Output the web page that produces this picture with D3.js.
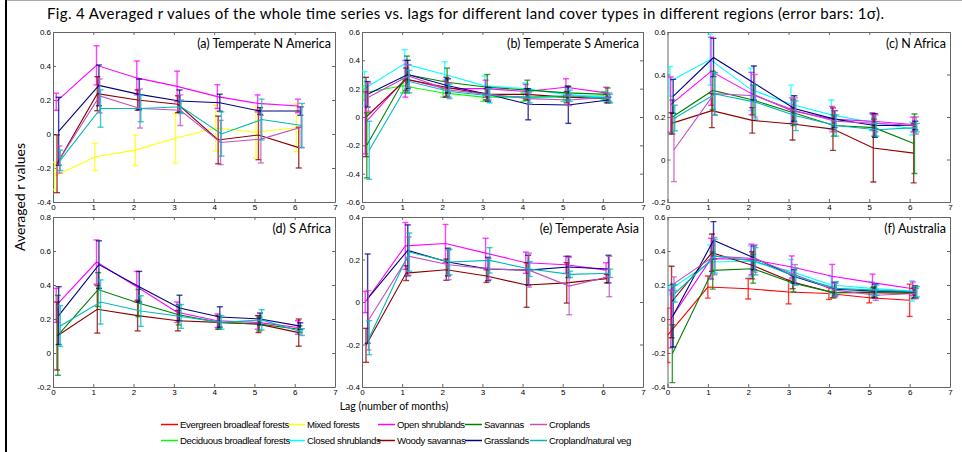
<!DOCTYPE html>
<html>
<head>
<meta charset="utf-8">
<title>Averaged r values vs lags</title>
<script src="https://cdn.jsdelivr.net/npm/d3@7"></script>
<style>
body { margin: 0; background: #fff; }
svg { display: block; }
text { font-family: Lato, "Open Sans", sans-serif; fill: #000; }
.tick text { font-family: "Liberation Sans", Arial, sans-serif; font-size: 8px; }
.tick line, .domain { stroke: #666; }
.legend text { font-family: "Liberation Sans Narrow", "Liberation Sans", sans-serif; font-size: 9.6px; letter-spacing: -0.35px; }
</style>
</head>
<body>
<svg id="fig" width="962" height="452"></svg>
<script>
// lags (x values) and land cover types
var lags = [0, 1, 2, 3, 4, 5, 6];
var typeNames = ["Evergreen broadleaf forests", "Deciduous broadleaf forests", "Mixed forests",
    "Closed shrublands", "Open shrublands", "Woody savannas", "Savannas", "Grasslands",
    "Croplands", "Cropland/natural veg"];
var typeColors = ["#ff0000", "#00ff00", "#ffff00", "#00ffff", "#ff00ff", "#8b0000",
    "#008000", "#000080", "#c050c0", "#00b8b8"];

var panelTitles = ["(a) Temperate N America", "(b) Temperate S America", "(c) N Africa",
    "(d) S Africa", "(e) Temperate Asia", "(f) Australia"];
var panelYDomains = [[-0.4, 0.6], [-0.6, 0.6], [-0.2, 0.6], [-0.2, 0.8], [-0.4, 0.4], [-0.4, 0.6]];

// each row: [type index, mean r at lags 0..6, 1 sigma at lags 0..6]
var tempNAmerica = [
    [2, [-0.247, -0.135, -0.095, -0.025, 0.035, 0.01, 0.037], [0.08, 0.08, 0.09, 0.145, 0.135, 0.15, 0.14]],
    [4, [0.19, 0.404, 0.33, 0.28, 0.22, 0.18, 0.165], [0.05, 0.115, 0.1, 0.09, 0.07, 0.05, 0.04]],
    [5, [-0.175, 0.237, 0.2, 0.175, -0.035, -0.006, -0.08], [0.17, 0.1, 0.06, 0.05, 0.14, 0.145, 0.12]],
    [7, [0.016, 0.286, 0.233, 0.194, 0.184, 0.135, 0.135], [0.2, 0.12, 0.09, 0.065, 0.05, 0.02, 0.025]],
    [8, [-0.15, 0.224, 0.15, 0.14, -0.05, -0.03, 0.04], [0.08, 0.1, 0.115, 0.09, 0.13, 0.14, 0.12]],
    [9, [-0.155, 0.15, 0.15, 0.16, 0.0, 0.085, 0.05], [0.06, 0.11, 0.078, 0.04, 0.13, 0.12, 0.13]]
];
var tempSAmerica = [
    [1, [0.17, 0.22, 0.17, 0.14, 0.14, 0.14, 0.15], [0.05, 0.05, 0.03, 0.03, 0.03, 0.03, 0.03]],
    [3, [0.2, 0.375, 0.3, 0.22, 0.2, 0.16, 0.14], [0.12, 0.1, 0.09, 0.07, 0.04, 0.05, 0.03]],
    [4, [-0.04, 0.27, 0.2, 0.2, 0.18, 0.21, 0.17], [0.22, 0.13, 0.06, 0.06, 0.05, 0.06, 0.04]],
    [5, [0.0, 0.265, 0.21, 0.16, 0.16, 0.14, 0.13], [0.28, 0.08, 0.07, 0.04, 0.04, 0.04, 0.03]],
    [6, [-0.2, 0.3, 0.245, 0.21, 0.19, 0.17, 0.16], [0.23, 0.13, 0.1, 0.09, 0.07, 0.05, 0.045]],
    [7, [0.16, 0.3, 0.22, 0.16, 0.09, 0.085, 0.12], [0.09, 0.1, 0.05, 0.05, 0.11, 0.13, 0.02]],
    [8, [0.14, 0.29, 0.19, 0.16, 0.13, 0.12, 0.14], [0.1, 0.08, 0.05, 0.04, 0.04, 0.04, 0.03]],
    [9, [-0.235, 0.25, 0.18, 0.15, 0.14, 0.15, 0.13], [0.205, 0.08, 0.05, 0.05, 0.04, 0.04, 0.03]]
];
var nAfrica = [
    [3, [0.368, 0.47, 0.33, 0.26, 0.21, 0.175, 0.145], [0.07, 0.12, 0.1, 0.09, 0.07, 0.04, 0.03]],
    [4, [0.258, 0.415, 0.31, 0.23, 0.19, 0.18, 0.165], [0.13, 0.16, 0.1, 0.06, 0.06, 0.04, 0.035]],
    [5, [0.17, 0.23, 0.184, 0.167, 0.143, 0.054, 0.03], [0.05, 0.08, 0.06, 0.075, 0.1, 0.16, 0.14]],
    [6, [0.2, 0.325, 0.28, 0.22, 0.16, 0.15, 0.074], [0.08, 0.09, 0.07, 0.06, 0.05, 0.04, 0.14]],
    [7, [0.297, 0.48, 0.36, 0.24, 0.19, 0.16, 0.16], [0.08, 0.09, 0.08, 0.06, 0.04, 0.055, 0.02]],
    [8, [0.046, 0.31, 0.3, 0.23, 0.18, 0.17, 0.16], [0.15, 0.1, 0.1, 0.06, 0.05, 0.04, 0.04]],
    [9, [0.195, 0.308, 0.27, 0.206, 0.16, 0.14, 0.15], [0.06, 0.1, 0.08, 0.07, 0.05, 0.03, 0.02]]
];
var sAfrica = [
    [4, [0.28, 0.535, 0.39, 0.24, 0.19, 0.18, 0.15], [0.1, 0.13, 0.09, 0.06, 0.04, 0.04, 0.04]],
    [5, [0.1, 0.257, 0.22, 0.19, 0.18, 0.17, 0.12], [0.2, 0.14, 0.09, 0.06, 0.04, 0.05, 0.08]],
    [6, [0.104, 0.373, 0.294, 0.225, 0.18, 0.17, 0.14], [0.235, 0.1, 0.08, 0.06, 0.04, 0.04, 0.02]],
    [7, [0.22, 0.52, 0.39, 0.265, 0.212, 0.2, 0.158], [0.17, 0.14, 0.09, 0.075, 0.06, 0.035, 0.02]],
    [9, [0.159, 0.3, 0.247, 0.215, 0.18, 0.195, 0.123], [0.12, 0.13, 0.09, 0.07, 0.04, 0.06, 0.02]]
];
var tempAsia = [
    [4, [0.0, 0.264, 0.275, 0.23, 0.185, 0.175, 0.15], [0.05, 0.11, 0.09, 0.07, 0.05, 0.04, 0.035]],
    [5, [-0.204, 0.136, 0.152, 0.122, 0.08, 0.09, 0.11], [0.08, 0.035, 0.05, 0.03, 0.105, 0.095, 0.02]],
    [7, [0.016, 0.243, 0.188, 0.155, 0.15, 0.165, 0.155], [0.21, 0.12, 0.065, 0.055, 0.07, 0.05, 0.065]],
    [8, [-0.086, 0.216, 0.175, 0.155, 0.15, 0.075, 0.12], [0.14, 0.09, 0.07, 0.05, 0.08, 0.135, 0.095]],
    [9, [-0.168, 0.235, 0.188, 0.196, 0.155, 0.13, 0.135], [0.08, 0.09, 0.06, 0.06, 0.035, 0.015, 0.02]]
];
var australia = [
    [0, [-0.096, 0.188, 0.178, 0.159, 0.15, 0.125, 0.11], [0.16, 0.065, 0.06, 0.07, 0.035, 0.03, 0.095]],
    [3, [0.172, 0.335, 0.34, 0.28, 0.2, 0.18, 0.165], [0.03, 0.1, 0.09, 0.07, 0.05, 0.04, 0.06]],
    [4, [0.0, 0.355, 0.35, 0.306, 0.251, 0.214, 0.178], [0.17, 0.12, 0.09, 0.065, 0.07, 0.05, 0.04]],
    [5, [0.1, 0.39, 0.316, 0.218, 0.155, 0.155, 0.15], [0.21, 0.11, 0.08, 0.04, 0.03, 0.03, 0.03]],
    [6, [-0.204, 0.286, 0.296, 0.21, 0.155, 0.16, 0.155], [0.17, 0.11, 0.085, 0.05, 0.03, 0.03, 0.03]],
    [7, [0.02, 0.463, 0.36, 0.25, 0.175, 0.165, 0.16], [0.185, 0.11, 0.07, 0.04, 0.04, 0.04, 0.035]],
    [8, [0.208, 0.37, 0.355, 0.26, 0.17, 0.14, 0.15], [0.04, 0.11, 0.08, 0.06, 0.04, 0.03, 0.03]],
    [9, [0.15, 0.37, 0.34, 0.25, 0.18, 0.17, 0.16], [0.05, 0.1, 0.08, 0.05, 0.04, 0.03, 0.03]]
];
var panelData = [tempNAmerica, tempSAmerica, nAfrica, sAfrica, tempAsia, australia];

var svg = d3.select("#fig");

// screenshot frame
svg.append("line").attr("x1", 6).attr("x2", 6).attr("y1", 0).attr("y2", 452)
    .attr("stroke", "#000").attr("stroke-width", 2);
svg.append("line").attr("x1", 7).attr("x2", 962).attr("y1", 0.5).attr("y2", 0.5)
    .attr("stroke", "#aaa");

svg.append("text")
    .attr("x", 47).attr("y", 19)
    .attr("textLength", 837).attr("lengthAdjust", "spacing")
    .style("font-size", "15px")
    .text("Fig. 4 Averaged r values of the whole time series vs. lags for different land cover types in different regions (error bars: 1\u03c3).");

var colX = [[53, 335], [362, 643], [667.5, 950]];
var rowY = [[32, 202], [217, 387]];
var fmt = function (d) { return d === 0 ? "0" : String(+d.toFixed(1)); };

panelData.forEach(function (rows, p) {
    var cx = colX[p % 3], cy = rowY[Math.floor(p / 3)];
    var dom = panelYDomains[p];
    var x = d3.scaleLinear().domain([0, 7]).range(cx);
    var y = d3.scaleLinear().domain(dom).range([cy[1], cy[0]]);
    var yTicks = d3.range(Math.round((dom[1] - dom[0]) / 0.2) + 1).map(function (i) { return +(dom[0] + i * 0.2).toFixed(1); });

    var g = svg.append("g");
    g.append("clipPath").attr("id", "clip" + p)
        .append("rect").attr("x", cx[0]).attr("y", cy[0])
        .attr("width", cx[1] - cx[0]).attr("height", cy[1] - cy[0]);

    g.append("g").attr("transform", "translate(0," + cy[1] + ")")
        .call(d3.axisBottom(x).ticks(7).tickSize(-3).tickSizeOuter(0).tickPadding(2).tickFormat(d3.format("d")));
    g.append("g").attr("transform", "translate(0," + cy[0] + ")")
        .call(d3.axisTop(x).ticks(7).tickSize(-3).tickSizeOuter(0).tickFormat(""));
    g.append("g").attr("transform", "translate(" + cx[0] + ",0)")
        .call(d3.axisLeft(y).tickValues(yTicks).tickSize(-3).tickSizeOuter(0).tickPadding(2).tickFormat(fmt));
    g.append("g").attr("transform", "translate(" + cx[1] + ",0)")
        .call(d3.axisRight(y).tickValues(yTicks).tickSize(-3).tickSizeOuter(0).tickFormat(""));

    var plot = g.append("g").attr("clip-path", "url(#clip" + p + ")");
    var line = d3.line()
        .x(function (d) { return x(d.lag); })
        .y(function (d) { return y(d.r); });

    rows.forEach(function (row) {
        var k = row[0], col = typeColors[k];
        var pts = lags.map(function (l, i) {
            return { lag: l + 0.02 * k, r: row[1][i], e: row[2][i] };
        });
        var s = plot.append("g");
        s.append("path").datum(pts).attr("d", line)
            .attr("fill", "none").attr("stroke", col).attr("stroke-width", 1.1);
        var eb = s.selectAll("g.eb").data(pts).enter().append("g")
            .attr("stroke", col).attr("stroke-width", 1.4).attr("stroke-opacity", 0.75);
        eb.append("line")
            .attr("x1", function (d) { return x(d.lag); }).attr("x2", function (d) { return x(d.lag); })
            .attr("y1", function (d) { return y(d.r - d.e); }).attr("y2", function (d) { return y(d.r + d.e); });
        [-1, 1].forEach(function (sg) {
            eb.append("line")
                .attr("x1", function (d) { return x(d.lag) - 3; }).attr("x2", function (d) { return x(d.lag) + 3; })
                .attr("y1", function (d) { return y(d.r + sg * d.e); }).attr("y2", function (d) { return y(d.r + sg * d.e); });
        });
    });

    g.append("text")
        .attr("x", cx[1] - 4).attr("y", cy[0] + 16)
        .attr("text-anchor", "end")
        .style("font-size", "12.5px")
        .text(panelTitles[p]);
});

svg.append("text")
    .attr("transform", "translate(25,197) rotate(-90)")
    .attr("text-anchor", "middle")
    .style("font-size", "14px")
    .text("Averaged r values");

svg.append("text")
    .attr("x", 394).attr("y", 410)
    .attr("text-anchor", "middle")
    .style("font-size", "10.5px")
    .text("Lag (number of months)");

// legend, 5 columns x 2 rows
var legX = [161, 288, 378, 465, 530];
var legend = svg.append("g").attr("class", "legend")
    .selectAll("g").data(typeNames).enter().append("g")
    .attr("transform", function (d, i) {
        return "translate(" + legX[Math.floor(i / 2)] + "," + (424.5 + (i % 2) * 16) + ")";
    });
legend.append("line").attr("x1", 0).attr("x2", 17)
    .attr("stroke", function (d, i) { return typeColors[i]; }).attr("stroke-width", 1.5);
legend.append("text").attr("x", 19).attr("y", 3.5)
    .text(function (d) { return d; });
</script>
</body>
</html>
